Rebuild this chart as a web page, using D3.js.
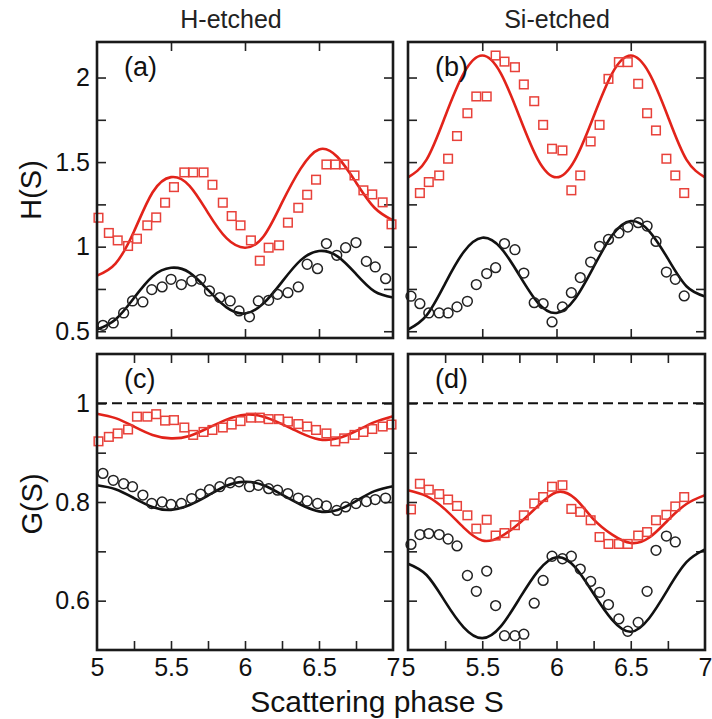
<!DOCTYPE html>
<html>
<head>
<meta charset="utf-8">
<script src="https://cdn.jsdelivr.net/npm/d3@7"></script>
<style>
  body { margin: 0; background: #fff; }
  svg { display: block; font-family: "Liberation Sans", Arial, sans-serif; }
</style>
</head>
<body>
<svg id="chart" width="712" height="719"></svg>
<script>
"use strict";

// scattering phase grid for the fitted curves
var sFit = [5, 5.125, 5.25, 5.375, 5.5, 5.625, 5.75, 5.875, 6, 6.125, 6.25, 6.375, 6.5, 6.625, 6.75, 6.875, 7];

// S positions of the measured points
var sHsq = [5.01, 5.08, 5.14, 5.21, 5.27, 5.34, 5.40, 5.46, 5.52, 5.59, 5.65, 5.72, 5.78, 5.85, 5.91, 5.97,
            6.04, 6.10, 6.16, 6.23, 6.29, 6.36, 6.42, 6.48, 6.55, 6.61, 6.67, 6.74, 6.80, 6.86, 6.93, 6.99];
var sHci = [5.04, 5.11, 5.18, 5.24, 5.31, 5.37, 5.44, 5.50, 5.57, 5.64, 5.70, 5.76, 5.83, 5.90, 5.96,
            6.03, 6.09, 6.16, 6.22, 6.29, 6.36, 6.42, 6.49, 6.55, 6.62, 6.68, 6.75, 6.82, 6.88, 6.95];
var sSi = [5.02, 5.08, 5.14, 5.21, 5.27, 5.33, 5.40, 5.46, 5.53, 5.59, 5.65, 5.72, 5.78, 5.85, 5.91,
           5.97, 6.04, 6.10, 6.16, 6.23, 6.29, 6.35, 6.42, 6.48, 6.55, 6.61, 6.67, 6.74, 6.80, 6.86];

// (a) H(S), H-etched
var aFitRed = [0.829, 0.90, 1.09, 1.32, 1.411, 1.36, 1.20, 1.05, 0.994, 1.06, 1.26, 1.46, 1.575, 1.53, 1.38, 1.23, 1.155];
var aFitBlack = [0.51, 0.570, 0.697, 0.824, 0.875, 0.847, 0.744, 0.641, 0.605, 0.665, 0.792, 0.919, 0.974, 0.943, 0.839, 0.736, 0.70];
var aSquares = [1.171, 1.081, 1.037, 1.004, 1.047, 1.126, 1.173, 1.26, 1.352, 1.439, 1.439, 1.439, 1.366, 1.26, 1.181, 1.126,
                1.037, 0.917, 0.994, 1.008, 1.142, 1.23, 1.307, 1.396, 1.486, 1.486, 1.486, 1.421, 1.333, 1.309, 1.262, 1.132];
var aCircles = [0.535, 0.549, 0.608, 0.679, 0.673, 0.746, 0.762, 0.807, 0.776, 0.797, 0.807, 0.738, 0.699, 0.679, 0.620,
                0.585, 0.679, 0.683, 0.718, 0.728, 0.762, 0.896, 0.870, 1.018, 0.949, 0.994, 1.024, 0.913, 0.880, 0.811];

// (b) H(S), Si-etched
var bFitRed = [1.41, 1.515, 1.77, 2.025, 2.13, 2.025, 1.77, 1.515, 1.41, 1.515, 1.77, 2.025, 2.13, 2.025, 1.77, 1.515, 1.41];
var bFitBlack = [0.51, 0.594, 0.782, 0.969, 1.053, 0.993, 0.831, 0.668, 0.608, 0.692, 0.880, 1.067, 1.151, 1.091, 0.929, 0.766, 0.706];
var bSquares = [null, 1.317, 1.382, 1.421, 1.520, 1.654, 1.789, 1.888, 1.888, 2.130, 2.094, 2.061, 1.959, 1.860, 1.720,
                1.579, 1.569, 1.333, 1.421, 1.622, 1.720, 1.992, 2.091, 2.091, 1.963, 1.789, 1.687, 1.520, 1.421, 1.317];
var bCircles = [0.707, 0.663, 0.608, 0.608, 0.608, 0.644, 0.677, 0.776, 0.841, 0.876, 1.018, 0.982, 0.844, 0.669, 0.663,
                0.555, 0.644, 0.728, 0.817, 0.909, 1.002, 1.043, 1.081, 1.116, 1.142, 1.122, 1.031, 0.850, 0.807, 0.709];

// (c) G(S), H-etched
var cFitRed = [0.979, 0.970, 0.953, 0.936, 0.929, 0.934, 0.950, 0.967, 0.977, 0.973, 0.958, 0.940, 0.927, 0.929, 0.944, 0.962, 0.974];
var cFitBlack = [0.834, 0.826, 0.808, 0.790, 0.784, 0.794, 0.813, 0.833, 0.841, 0.834, 0.815, 0.795, 0.781, 0.784, 0.802, 0.822, 0.832];
var cSquares = [0.923, 0.932, 0.939, 0.947, 0.973, 0.973, 0.978, 0.965, 0.966, 0.951, 0.936, 0.942, 0.946, 0.951, 0.957, 0.964,
                0.971, 0.971, 0.968, 0.968, 0.963, 0.958, 0.953, 0.946, 0.939, 0.923, 0.929, 0.936, 0.942, 0.948, 0.953, 0.957];
var cCircles = [0.858, 0.844, 0.837, 0.831, 0.814, 0.797, 0.800, 0.795, 0.797, 0.807, 0.816, 0.825, 0.831, 0.839, 0.841,
                0.831, 0.834, 0.827, 0.824, 0.817, 0.808, 0.802, 0.797, 0.792, 0.783, 0.790, 0.797, 0.801, 0.805, 0.808];

// (d) G(S), Si-etched
var dFitRed = [0.824, 0.812, 0.785, 0.748, 0.722, 0.730, 0.757, 0.792, 0.820, 0.807, 0.765, 0.734, 0.717, 0.728, 0.763, 0.796, 0.814];
var dFitBlack = [0.675, 0.652, 0.598, 0.546, 0.524, 0.548, 0.604, 0.660, 0.688, 0.668, 0.614, 0.561, 0.537, 0.565, 0.623, 0.678, 0.704];
var dSquares = [0.785, 0.837, 0.825, 0.816, 0.805, 0.792, 0.773, 0.746, 0.764, 0.732, 0.737, 0.753, 0.773, 0.797, 0.810,
                0.831, 0.834, 0.786, 0.780, 0.763, 0.729, 0.715, 0.715, 0.715, 0.732, 0.739, 0.763, 0.774, 0.791, 0.810];
var dCircles = [0.714, 0.734, 0.736, 0.734, 0.725, 0.711, 0.651, 0.619, 0.660, 0.590, 0.529, 0.529, 0.532, 0.595, 0.641,
                0.690, 0.685, 0.690, 0.664, 0.639, 0.617, 0.592, 0.563, 0.538, 0.556, 0.619, 0.702, 0.731, 0.719, null];

// tick values and labels
var xMajor = [5, 5.5, 6, 6.5, 7];
var xQuarter = [5.25, 5.5, 5.75, 6, 6.25, 6.5, 6.75];
var hTicks = [0.5, 0.75, 1, 1.25, 1.5, 1.75, 2];
var hLabels = [0.5, 1, 1.5, 2];
var gTicks = [0.6, 0.7, 0.8, 0.9, 1];
var gLabels = [0.6, 0.8, 1];

var columnTitles = ["H-etched", "Si-etched"];

var RED = "#e2231a";
var RED_MARK = "#e8413a";

var svg = d3.select("#chart");

var zip = function (xs, ys) {
    var out = [];
    for (let i = 0; i < xs.length; i++) {
        if (ys[i] !== null && ys[i] !== undefined) out.push([xs[i], ys[i]]);
    }
    return out;
};

var panels = [
    { tag: "(a)", left: 97, right: 393, top: 42, bottom: 338, yDomain: [0.46, 2.21], yTicks: hTicks, yLabels: hLabels,
      xTicks: [5.5, 6, 6.5], fitRed: aFitRed, fitBlack: aFitBlack,
      squares: zip(sHsq, aSquares), circles: zip(sHci, aCircles), dashed: false, showY: true, showX: false },
    { tag: "(b)", left: 408, right: 705, top: 42, bottom: 338, yDomain: [0.46, 2.21], yTicks: hTicks, yLabels: hLabels,
      xTicks: [5.5, 6, 6.5], fitRed: bFitRed, fitBlack: bFitBlack,
      squares: zip(sSi, bSquares), circles: zip(sSi, bCircles), dashed: false, showY: false, showX: false },
    { tag: "(c)", left: 97, right: 393, top: 354, bottom: 650, yDomain: [0.5, 1.1], yTicks: gTicks, yLabels: gLabels,
      xTicks: xQuarter, fitRed: cFitRed, fitBlack: cFitBlack,
      squares: zip(sHsq, cSquares), circles: zip(sHci, cCircles), dashed: true, showY: true, showX: true },
    { tag: "(d)", left: 408, right: 705, top: 354, bottom: 650, yDomain: [0.5, 1.1], yTicks: gTicks, yLabels: gLabels,
      xTicks: xQuarter, fitRed: dFitRed, fitBlack: dFitBlack,
      squares: zip(sSi, dSquares), circles: zip(sSi, dCircles), dashed: true, showY: false, showX: true }
];

var drawPanel = function (p) {
    var x = d3.scaleLinear().domain([5, 7]).range([p.left, p.right]);
    var y = d3.scaleLinear().domain(p.yDomain).range([p.bottom, p.top]);
    var g = svg.append("g");

    // inward ticks on all four sides
    var axes = [
        { ax: d3.axisBottom(x).tickValues(p.xTicks), at: "translate(0," + p.bottom + ")" },
        { ax: d3.axisTop(x).tickValues(p.xTicks), at: "translate(0," + p.top + ")" },
        { ax: d3.axisLeft(y).tickValues(p.yTicks), at: "translate(" + p.left + ",0)" },
        { ax: d3.axisRight(y).tickValues(p.yTicks), at: "translate(" + p.right + ",0)" }
    ];
    axes.forEach(function (a) {
        var ag = g.append("g").attr("transform", a.at)
            .call(a.ax.tickSize(-9).tickFormat(""));
        ag.select(".domain").remove();
        ag.selectAll(".tick line").attr("stroke", "#222").attr("stroke-width", 1.6);
    });

    // tick labels
    if (p.showY) {
        g.append("g").attr("transform", "translate(" + p.left + ",0)")
            .call(d3.axisLeft(y).tickValues(p.yLabels).tickSize(0).tickPadding(7).tickFormat(d3.format("")))
            .call(function (s) { s.select(".domain").remove(); })
            .selectAll("text").attr("font-size", 25).attr("fill", "#111")
            .attr("font-family", "Liberation Sans, Arial, sans-serif");
    }
    if (p.showX) {
        g.append("g").attr("transform", "translate(0," + p.bottom + ")")
            .call(d3.axisBottom(x).tickValues(xMajor).tickSize(0).tickPadding(8).tickFormat(d3.format("")))
            .call(function (s) { s.select(".domain").remove(); })
            .selectAll("text").attr("font-size", 25).attr("fill", "#111")
            .attr("font-family", "Liberation Sans, Arial, sans-serif");
    }

    if (p.dashed) {
        g.append("line")
            .attr("x1", x(5)).attr("x2", x(7))
            .attr("y1", y(1)).attr("y2", y(1))
            .attr("stroke", "#111").attr("stroke-width", 2)
            .attr("stroke-dasharray", "10,5");
    }

    var line = d3.line()
        .x(function (d) { return x(d[0]); })
        .y(function (d) { return y(d[1]); })
        .curve(d3.curveNatural);

    g.append("path").datum(zip(sFit, p.fitRed))
        .attr("d", line).attr("fill", "none").attr("stroke", RED).attr("stroke-width", 2.6);
    g.append("path").datum(zip(sFit, p.fitBlack))
        .attr("d", line).attr("fill", "none").attr("stroke", "#111").attr("stroke-width", 2.6);

    g.selectAll("rect.sq").data(p.squares).enter().append("rect")
        .attr("class", "sq")
        .attr("x", function (d) { return x(d[0]) - 4.3; })
        .attr("y", function (d) { return y(d[1]) - 4.3; })
        .attr("width", 8.6).attr("height", 8.6)
        .attr("fill", "none").attr("stroke", RED_MARK).attr("stroke-width", 1.5);

    g.selectAll("circle.ci").data(p.circles).enter().append("circle")
        .attr("class", "ci")
        .attr("cx", function (d) { return x(d[0]); })
        .attr("cy", function (d) { return y(d[1]); })
        .attr("r", 4.9)
        .attr("fill", "none").attr("stroke", "#222").attr("stroke-width", 1.5);

    // frame
    g.append("rect")
        .attr("x", p.left).attr("y", p.top)
        .attr("width", p.right - p.left).attr("height", p.bottom - p.top)
        .attr("fill", "none").attr("stroke", "#1a1a1a").attr("stroke-width", 2.6);

    g.append("text")
        .attr("x", p.left + 27).attr("y", p.top + 34)
        .attr("font-size", 27).attr("fill", "#111")
        .text(p.tag);
};

panels.forEach(drawPanel);

// column titles
svg.selectAll("text.title").data(columnTitles).enter().append("text")
    .attr("class", "title")
    .attr("x", function (d, i) { return i === 0 ? 231 : 557; })
    .attr("y", 28)
    .attr("text-anchor", "middle")
    .attr("font-size", 25).attr("fill", "#222")
    .text(function (d) { return d; });

// axis titles
svg.append("text")
    .attr("transform", "translate(41,190) rotate(-90)")
    .attr("text-anchor", "middle")
    .attr("font-size", 29).attr("fill", "#111")
    .text("H(S)");
svg.append("text")
    .attr("transform", "translate(42,504) rotate(-90)")
    .attr("text-anchor", "middle")
    .attr("font-size", 29).attr("fill", "#111")
    .text("G(S)");
svg.append("text")
    .attr("x", 377).attr("y", 712)
    .attr("text-anchor", "middle")
    .attr("font-size", 30).attr("fill", "#111")
    .text("Scattering phase S");
</script>
</body>
</html>
